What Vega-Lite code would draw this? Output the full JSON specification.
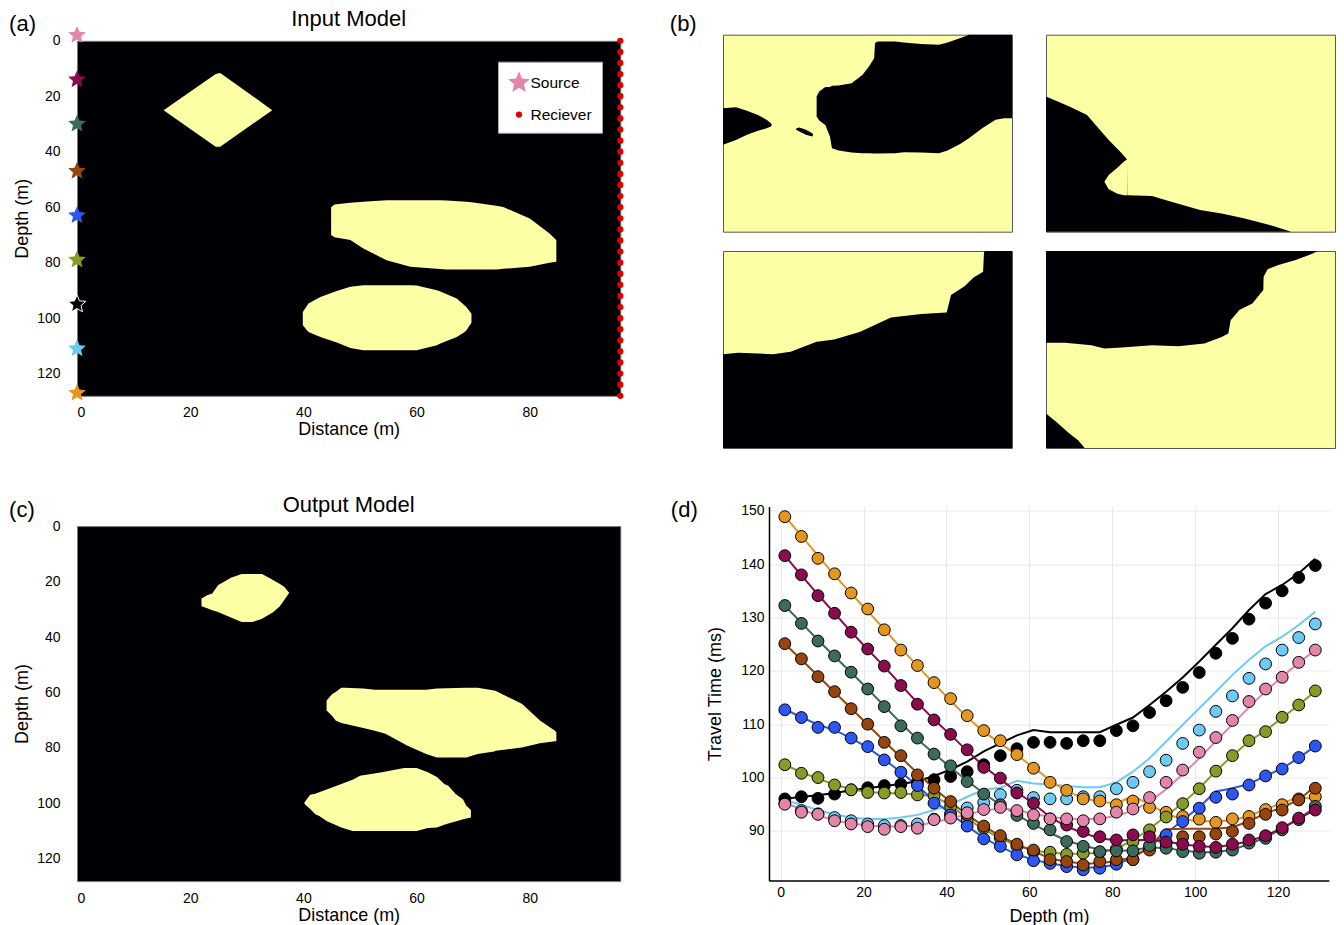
{
"$schema": "https://vega.github.io/schema/vega-lite/v6.json",
"background": "white",
"padding": {"left": 8, "top": 6.7, "right": 0, "bottom": 0},
"config": {
  "font": "Liberation Sans",
  "view": {"stroke": null},
  "axis": {"labelFont": "Liberation Sans", "titleFont": "Liberation Sans", "labelFontSize": 14, "titleFontSize": 18, "titleFontWeight": "normal", "labelColor": "#000", "titleColor": "#000"},
  "title": {"font": "Liberation Sans", "fontSize": 22, "fontWeight": "normal", "color": "#000"},
  "text": {"font": "Liberation Sans"}
},
"resolve": {"scale": {"color": "independent", "fill": "independent", "shape": "independent", "size": "independent"}, "legend": {"color": "independent", "fill": "independent", "shape": "independent", "size": "independent"}},
"spacing": 45,
"hconcat": [
  {
    "vconcat": [
      {"width": 1, "height": 1, "data": {"values": [{}]}, "mark": {"type": "text"}, "encoding": {"text": {"value": ""}}},
      {
        "vconcat": [
          {
            "width": 543.3, "height": 355,
            "title": {"text": "Input Model", "offset": -18},
            "view": {"fill": "#000004", "stroke": "#777"},
            "layer": [
              {
                "data": {"values": [
                  {"g":1,"x":15.3,"top":25,"bot":25},{"g":1,"x":24.5,"top":12,"bot":38.2},{"g":1,"x":25.3,"top":11.6,"bot":38.2},{"g":1,"x":34.5,"top":25,"bot":25},
                  {"g":2,"x":44.9,"top":60,"bot":70},{"g":2,"x":45.5,"top":59,"bot":70.8},{"g":2,"x":48.3,"top":58.4,"bot":71.8},{"g":2,"x":50.6,"top":58.0,"bot":74.9},{"g":2,"x":54.7,"top":57.5,"bot":79.1},{"g":2,"x":58.9,"top":57.5,"bot":81.5},{"g":2,"x":64.1,"top":57.5,"bot":82.3},{"g":2,"x":65.3,"top":57.6,"bot":82.5},{"g":2,"x":69.4,"top":58.1,"bot":82.5},{"g":2,"x":74.1,"top":59.5,"bot":82.5},{"g":2,"x":75.3,"top":59.9,"bot":82.2},{"g":2,"x":80.0,"top":64.1,"bot":81.5},{"g":2,"x":83.5,"top":69.5,"bot":80.0},{"g":2,"x":84.7,"top":71.9,"bot":79.7},
                  {"g":3,"x":39.9,"top":97.8,"bot":102.6},{"g":3,"x":40.9,"top":94.7,"bot":105.0},{"g":3,"x":43.0,"top":92.4,"bot":106.8},{"g":3,"x":45.9,"top":90.2,"bot":108.8},{"g":3,"x":48.3,"top":88.7,"bot":110.8},{"g":3,"x":50.6,"top":88.1,"bot":111.6},{"g":3,"x":58.9,"top":88.1,"bot":111.6},{"g":3,"x":60.0,"top":88.2,"bot":111.6},{"g":3,"x":63.6,"top":89.9,"bot":109.8},{"g":3,"x":64.1,"top":90.3,"bot":109.2},{"g":3,"x":67.1,"top":92.9,"bot":106.8},{"g":3,"x":68.5,"top":95.4,"bot":105.0},{"g":3,"x":68.8,"top":96.0,"bot":104.4},{"g":3,"x":69.7,"top":98.4,"bot":101.7}
                ]},
                "mark": {"type": "area", "color": "#fcffa4", "opacity": 1},
                "encoding": {
                  "x": {"field": "x", "type": "quantitative", "scale": {"domain": [0, 96], "nice": false, "zero": false}, "axis": {"values": [0,20,40,60,80], "title": "Distance (m)", "grid": false, "ticks": false, "domain": false, "labelPadding": 10, "titlePadding": 1}},
                  "y": {"field": "top", "type": "quantitative", "scale": {"domain": [0, 128], "reverse": true, "nice": false, "zero": false}, "axis": {"values": [0,20,40,60,80,100,120], "title": "Depth (m)", "grid": false, "ticks": false, "domain": false, "labelPadding": 17, "titlePadding": 5}},
                  "y2": {"field": "bot"},
                  "detail": {"field": "g"}
                }
              },
              {
                "data": {"values": [
                  {"x":96,"depth":0,"kind":"Reciever"},{"x":96,"depth":4,"kind":"Reciever"},{"x":96,"depth":8,"kind":"Reciever"},{"x":96,"depth":12,"kind":"Reciever"},{"x":96,"depth":16,"kind":"Reciever"},{"x":96,"depth":20,"kind":"Reciever"},{"x":96,"depth":24,"kind":"Reciever"},{"x":96,"depth":28,"kind":"Reciever"},{"x":96,"depth":32,"kind":"Reciever"},{"x":96,"depth":36,"kind":"Reciever"},{"x":96,"depth":40,"kind":"Reciever"},{"x":96,"depth":44,"kind":"Reciever"},{"x":96,"depth":48,"kind":"Reciever"},{"x":96,"depth":52,"kind":"Reciever"},{"x":96,"depth":56,"kind":"Reciever"},{"x":96,"depth":60,"kind":"Reciever"},{"x":96,"depth":64,"kind":"Reciever"},{"x":96,"depth":68,"kind":"Reciever"},{"x":96,"depth":72,"kind":"Reciever"},{"x":96,"depth":76,"kind":"Reciever"},{"x":96,"depth":80,"kind":"Reciever"},{"x":96,"depth":84,"kind":"Reciever"},{"x":96,"depth":88,"kind":"Reciever"},{"x":96,"depth":92,"kind":"Reciever"},{"x":96,"depth":96,"kind":"Reciever"},{"x":96,"depth":100,"kind":"Reciever"},{"x":96,"depth":104,"kind":"Reciever"},{"x":96,"depth":108,"kind":"Reciever"},{"x":96,"depth":112,"kind":"Reciever"},{"x":96,"depth":116,"kind":"Reciever"},{"x":96,"depth":120,"kind":"Reciever"},{"x":96,"depth":124,"kind":"Reciever"},{"x":96,"depth":128,"kind":"Reciever"}
                ]},
                "mark": {"type": "point", "filled": true, "opacity": 1},
                "encoding": {
                  "x": {"field": "x", "type": "quantitative"},
                  "y": {"field": "depth", "type": "quantitative"},
                  "color": {"field": "kind", "type": "nominal", "scale": {"domain": ["Source", "Reciever"], "range": ["#e384ab", "#e00000"]},
                    "legend": {"orient": "none", "legendX": 421, "legendY": 27, "title": null, "fillColor": "#ffffff", "strokeColor": "#aaaaaa", "padding": 9.5, "labelFontSize": 15.5, "labelFont": "Liberation Sans", "labelColor": "#000", "rowPadding": 14.6, "labelOffset": 0, "symbolStrokeWidth": 0}},
                  "shape": {"field": "kind", "type": "nominal", "scale": {"domain": ["Source", "Reciever"], "range": ["M0,-1L0.265,-0.364L0.951,-0.309L0.428,0.139L0.588,0.809L0,0.45L-0.588,0.809L-0.428,0.139L-0.951,-0.309L-0.265,-0.364Z", "circle"]}},
                  "size": {"field": "kind", "type": "nominal", "scale": {"domain": ["Source", "Reciever"], "range": [520, 40]}}
                }
              },
              {
                "data": {"values": [
                  {"x":0,"depth":-2,"kind":"Source","src":"s0"},{"x":0,"depth":14,"kind":"Source","src":"s16"},{"x":0,"depth":30,"kind":"Source","src":"s32"},{"x":0,"depth":47,"kind":"Source","src":"s48"},{"x":0,"depth":63,"kind":"Source","src":"s64"},{"x":0,"depth":79,"kind":"Source","src":"s80"},{"x":0,"depth":95,"kind":"Source","src":"s96"},{"x":0,"depth":111,"kind":"Source","src":"s112"},{"x":0,"depth":127,"kind":"Source","src":"s128"}
                ]},
                "mark": {"type": "point", "filled": true, "size": 350, "opacity": 1, "strokeWidth": 1},
                "encoding": {
                  "x": {"field": "x", "type": "quantitative"},
                  "y": {"field": "depth", "type": "quantitative"},
                  "shape": {"field": "kind", "type": "nominal"},
                  "fill": {"field": "src", "type": "nominal", "scale": {"domain": ["s0","s16","s32","s48","s64","s80","s96","s112","s128"], "range": ["#e384ab","#8b0c4e","#3d6b5b","#96450f","#2d57f0","#8a9a26","#000000","#6ccaf5","#e4961f"]}, "legend": null},
                  "stroke": {"condition": {"test": "datum.src === 's96'", "value": "#ffffff"}, "value": "transparent"}
                }
              },
              {
                "data": {"values": [{"t": "(a)"}]},
                "mark": {"type": "text", "align": "left", "baseline": "alphabetic", "fontSize": 22, "color": "#000"},
                "encoding": {"x": {"datum": -12, "type": "quantitative"}, "y": {"datum": -3.5, "type": "quantitative"}, "text": {"field": "t"}}
              }
            ]
          },
          {
            "width": 543.3, "height": 355,
            "title": {"text": "Output Model", "offset": -18},
            "view": {"fill": "#000004", "stroke": "#777"},
            "layer": [
              {
                "data": {"values": [
                  {"g":1,"x":22.0,"top":26.1,"bot":28.9},{"g":1,"x":23.0,"top":24.9,"bot":29.6},{"g":1,"x":23.9,"top":24.3,"bot":30.3},{"g":1,"x":24.9,"top":21.3,"bot":31.0},{"g":1,"x":27.2,"top":18.6,"bot":33.0},{"g":1,"x":29.1,"top":17.3,"bot":34.6},{"g":1,"x":31.0,"top":17.3,"bot":34.6},{"g":1,"x":32.7,"top":17.3,"bot":33.4},{"g":1,"x":34.7,"top":19.5,"bot":31.0},{"g":1,"x":35.8,"top":20.8,"bot":29.0},{"g":1,"x":36.6,"top":21.9,"bot":26.7},{"g":1,"x":37.5,"top":24.0,"bot":24.0},
                  {"g":2,"x":44.1,"top":62.9,"bot":66.5},{"g":2,"x":45.1,"top":60.5,"bot":68.5},{"g":2,"x":45.7,"top":59.8,"bot":70.1},{"g":2,"x":46.7,"top":58.3,"bot":71.0},{"g":2,"x":47.3,"top":58.3,"bot":71.3},{"g":2,"x":50.6,"top":58.6,"bot":72.8},{"g":2,"x":52.6,"top":59.0,"bot":73.8},{"g":2,"x":54.5,"top":59.0,"bot":74.9},{"g":2,"x":58.4,"top":59.0,"bot":79.2},{"g":2,"x":61.7,"top":59.0,"bot":82.2},{"g":2,"x":63.6,"top":58.6,"bot":83.4},{"g":2,"x":68.8,"top":58.3,"bot":83.4},{"g":2,"x":70.8,"top":58.3,"bot":82.2},{"g":2,"x":73.7,"top":59.3,"bot":81.3},{"g":2,"x":74.0,"top":59.5,"bot":81.0},{"g":2,"x":78.6,"top":64.1,"bot":79.8},{"g":2,"x":79.9,"top":66.5,"bot":79.2},{"g":2,"x":81.8,"top":70.1,"bot":78.3},{"g":2,"x":84.4,"top":73.7,"bot":77.6},{"g":2,"x":84.7,"top":74.3,"bot":77.6},
                  {"g":3,"x":40.2,"top":99.6,"bot":100.2},{"g":3,"x":41.2,"top":96.9,"bot":102.0},{"g":3,"x":42.1,"top":96.5,"bot":103.9},{"g":3,"x":42.8,"top":96.0,"bot":104.5},{"g":3,"x":44.1,"top":95.0,"bot":106.3},{"g":3,"x":46.7,"top":93.0,"bot":108.7},{"g":3,"x":48.7,"top":91.5,"bot":109.9},{"g":3,"x":50.0,"top":90.0,"bot":109.9},{"g":3,"x":53.9,"top":88.8,"bot":109.9},{"g":3,"x":57.8,"top":87.2,"bot":109.9},{"g":3,"x":60.0,"top":87.2,"bot":109.9},{"g":3,"x":62.0,"top":88.8,"bot":108.9},{"g":3,"x":63.6,"top":90.5,"bot":108.7},{"g":3,"x":64.9,"top":93.0,"bot":107.7},{"g":3,"x":65.6,"top":93.6,"bot":107.2},{"g":3,"x":66.9,"top":96.6,"bot":106.5},{"g":3,"x":68.2,"top":98.5,"bot":105.7},{"g":3,"x":68.8,"top":100.8,"bot":105.4},{"g":3,"x":69.6,"top":102.4,"bot":105.1}
                ]},
                "mark": {"type": "area", "color": "#fcffa4", "opacity": 1},
                "encoding": {
                  "x": {"field": "x", "type": "quantitative", "scale": {"domain": [0, 96], "nice": false, "zero": false}, "axis": {"values": [0,20,40,60,80], "title": "Distance (m)", "grid": false, "ticks": false, "domain": false, "labelPadding": 10, "titlePadding": 1}},
                  "y": {"field": "top", "type": "quantitative", "scale": {"domain": [0, 128], "reverse": true, "nice": false, "zero": false}, "axis": {"values": [0,20,40,60,80,100,120], "title": "Depth (m)", "grid": false, "ticks": false, "domain": false, "labelPadding": 17, "titlePadding": 5}},
                  "y2": {"field": "bot"},
                  "detail": {"field": "g"}
                }
              },
              {
                "data": {"values": [{"t": "(c)"}]},
                "mark": {"type": "text", "align": "left", "baseline": "alphabetic", "fontSize": 22, "color": "#000"},
                "encoding": {"x": {"datum": -12, "type": "quantitative"}, "y": {"datum": -3.3, "type": "quantitative"}, "text": {"field": "t"}}
              }
            ]
          }
        ],
        "spacing": 53.3
      }
    ],
    "spacing": -33.9
  },
  {
    "vconcat": [
      {
        "data": {"values": [
          {"r":1,"c":1,"k":"label","lab":"(b)"},
          {"r":1,"c":1,"k":"rock","g":1,"u":32.4,"t":31.4,"b":41.5},{"r":1,"c":1,"k":"rock","g":1,"u":33.3,"t":28.8,"b":43.6},{"r":1,"c":1,"k":"rock","g":1,"u":35.4,"t":26.6,"b":45.8},{"r":1,"c":1,"k":"rock","g":1,"u":37.0,"t":26.6,"b":51.7},{"r":1,"c":1,"k":"rock","g":1,"u":37.7,"t":25.9,"b":57.6},{"r":1,"c":1,"k":"rock","g":1,"u":40.0,"t":25.8,"b":58.8},{"r":1,"c":1,"k":"rock","g":1,"u":44.5,"t":24.6,"b":59.8},{"r":1,"c":1,"k":"rock","g":1,"u":48.3,"t":20.3,"b":60.2},{"r":1,"c":1,"k":"rock","g":1,"u":50.5,"t":16.1,"b":60.2},{"r":1,"c":1,"k":"rock","g":1,"u":52.3,"t":11.9,"b":60.3},{"r":1,"c":1,"k":"rock","g":1,"u":52.6,"t":4.2,"b":60.3},{"r":1,"c":1,"k":"rock","g":1,"u":53.5,"t":3.4,"b":60.3},{"r":1,"c":1,"k":"rock","g":1,"u":59.6,"t":3.4,"b":60.2},{"r":1,"c":1,"k":"rock","g":1,"u":62.6,"t":3.9,"b":59.7},{"r":1,"c":1,"k":"rock","g":1,"u":68.6,"t":4.7,"b":59.8},{"r":1,"c":1,"k":"rock","g":1,"u":74.7,"t":5.1,"b":60.2},{"r":1,"c":1,"k":"rock","g":1,"u":77.7,"t":3.9,"b":58.8},{"r":1,"c":1,"k":"rock","g":1,"u":82.2,"t":1.7,"b":55.4},{"r":1,"c":1,"k":"rock","g":1,"u":85.2,"t":0,"b":52.5},{"r":1,"c":1,"k":"rock","g":1,"u":89.7,"t":0,"b":47.5},{"r":1,"c":1,"k":"rock","g":1,"u":94.3,"t":0,"b":43.2},{"r":1,"c":1,"k":"rock","g":1,"u":97.3,"t":0,"b":42.4},{"r":1,"c":1,"k":"rock","g":1,"u":100,"t":0,"b":42.4},
          {"r":1,"c":1,"k":"rock","g":2,"u":0,"t":37.3,"b":55.9},{"r":1,"c":1,"k":"rock","g":2,"u":4.5,"t":36.8,"b":53.4},{"r":1,"c":1,"k":"rock","g":2,"u":8.3,"t":38.6,"b":50.8},{"r":1,"c":1,"k":"rock","g":2,"u":12.1,"t":40.7,"b":48.8},{"r":1,"c":1,"k":"rock","g":2,"u":15.1,"t":43.2,"b":47.5},{"r":1,"c":1,"k":"rock","g":2,"u":16.6,"t":44.9,"b":46.6},{"r":1,"c":1,"k":"rock","g":2,"u":16.9,"t":45.8,"b":45.8},
          {"r":1,"c":1,"k":"rock","g":3,"u":25.3,"t":47.6,"b":48.3},{"r":1,"c":1,"k":"rock","g":3,"u":26.4,"t":47.1,"b":49.2},{"r":1,"c":1,"k":"rock","g":3,"u":28.7,"t":48.3,"b":50.8},{"r":1,"c":1,"k":"rock","g":3,"u":30.9,"t":50.0,"b":51.7},{"r":1,"c":1,"k":"rock","g":3,"u":31.2,"t":50.8,"b":50.8},
          {"r":1,"c":2,"k":"rock","g":1,"u":0,"t":31.4,"b":100},{"r":1,"c":2,"k":"rock","g":1,"u":8.1,"t":36.4,"b":100},{"r":1,"c":2,"k":"rock","g":1,"u":14.2,"t":40.7,"b":100},{"r":1,"c":2,"k":"rock","g":1,"u":17.2,"t":45.8,"b":100},{"r":1,"c":2,"k":"rock","g":1,"u":21.7,"t":53.4,"b":100},{"r":1,"c":2,"k":"rock","g":1,"u":26.2,"t":60.2,"b":100},{"r":1,"c":2,"k":"rock","g":1,"u":28.0,"t":63.2,"b":100},{"r":1,"c":2,"k":"rock","g":1,"u":28.2,"t":81.5,"b":100},{"r":1,"c":2,"k":"rock","g":1,"u":36.7,"t":81.9,"b":100},{"r":1,"c":2,"k":"rock","g":1,"u":41.3,"t":83.9,"b":100},{"r":1,"c":2,"k":"rock","g":1,"u":53.3,"t":89.0,"b":100},{"r":1,"c":2,"k":"rock","g":1,"u":60.8,"t":90.7,"b":100},{"r":1,"c":2,"k":"rock","g":1,"u":68.4,"t":93.2,"b":100},{"r":1,"c":2,"k":"rock","g":1,"u":77.4,"t":96.6,"b":100},{"r":1,"c":2,"k":"rock","g":1,"u":84.9,"t":100,"b":100},
          {"r":1,"c":2,"k":"gap","g":2,"u":20.2,"t":74.6,"b":74.6},{"r":1,"c":2,"k":"gap","g":2,"u":21.7,"t":71.2,"b":78.5},{"r":1,"c":2,"k":"gap","g":2,"u":24.7,"t":67.5,"b":80.8},{"r":1,"c":2,"k":"gap","g":2,"u":27.0,"t":64.4,"b":81.5},{"r":1,"c":2,"k":"gap","g":2,"u":28.2,"t":63.2,"b":81.5},
          {"r":2,"c":1,"k":"rock","g":1,"u":0,"t":52.4,"b":100},{"r":2,"c":1,"k":"rock","g":1,"u":5.3,"t":51.7,"b":100},{"r":2,"c":1,"k":"rock","g":1,"u":17.3,"t":52.4,"b":100},{"r":2,"c":1,"k":"rock","g":1,"u":23.4,"t":51.2,"b":100},{"r":2,"c":1,"k":"rock","g":1,"u":32.4,"t":46.1,"b":100},{"r":2,"c":1,"k":"rock","g":1,"u":38.5,"t":44.9,"b":100},{"r":2,"c":1,"k":"rock","g":1,"u":47.5,"t":41.0,"b":100},{"r":2,"c":1,"k":"rock","g":1,"u":58.1,"t":33.7,"b":100},{"r":2,"c":1,"k":"rock","g":1,"u":68.6,"t":32.0,"b":100},{"r":2,"c":1,"k":"rock","g":1,"u":77.4,"t":31.2,"b":100},{"r":2,"c":1,"k":"rock","g":1,"u":78.9,"t":22.4,"b":100},{"r":2,"c":1,"k":"rock","g":1,"u":83.7,"t":17.8,"b":100},{"r":2,"c":1,"k":"rock","g":1,"u":86.7,"t":13.4,"b":100},{"r":2,"c":1,"k":"rock","g":1,"u":90.0,"t":10.5,"b":100},{"r":2,"c":1,"k":"rock","g":1,"u":90.3,"t":1.2,"b":100},{"r":2,"c":1,"k":"rock","g":1,"u":90.5,"t":0,"b":100},{"r":2,"c":1,"k":"rock","g":1,"u":100,"t":0,"b":100},
          {"r":2,"c":2,"k":"rock","g":1,"u":0,"t":0,"b":46.6},{"r":2,"c":2,"k":"rock","g":1,"u":6.6,"t":0,"b":46.6},{"r":2,"c":2,"k":"rock","g":1,"u":15.7,"t":0,"b":47.8},{"r":2,"c":2,"k":"rock","g":1,"u":20.2,"t":0,"b":49.5},{"r":2,"c":2,"k":"rock","g":1,"u":26.2,"t":0,"b":49.0},{"r":2,"c":2,"k":"rock","g":1,"u":36.7,"t":0,"b":47.8},{"r":2,"c":2,"k":"rock","g":1,"u":45.8,"t":0,"b":48.3},{"r":2,"c":2,"k":"rock","g":1,"u":54.8,"t":0,"b":46.9},{"r":2,"c":2,"k":"rock","g":1,"u":60.8,"t":0,"b":43.6},{"r":2,"c":2,"k":"rock","g":1,"u":63.1,"t":0,"b":41.9},{"r":2,"c":2,"k":"rock","g":1,"u":63.9,"t":0,"b":35.1},{"r":2,"c":2,"k":"rock","g":1,"u":66.9,"t":0,"b":30.0},{"r":2,"c":2,"k":"rock","g":1,"u":71.4,"t":0,"b":26.6},{"r":2,"c":2,"k":"rock","g":1,"u":75.2,"t":0,"b":19.8},{"r":2,"c":2,"k":"rock","g":1,"u":75.3,"t":0,"b":13.1},{"r":2,"c":2,"k":"rock","g":1,"u":76.7,"t":0,"b":9.3},{"r":2,"c":2,"k":"rock","g":1,"u":80.4,"t":0,"b":7.1},{"r":2,"c":2,"k":"rock","g":1,"u":86.4,"t":0,"b":4.6},{"r":2,"c":2,"k":"rock","g":1,"u":92.5,"t":0,"b":1.2},{"r":2,"c":2,"k":"rock","g":1,"u":94.0,"t":0,"b":0},
          {"r":2,"c":2,"k":"rock","g":2,"u":0,"t":82.5,"b":100},{"r":2,"c":2,"k":"rock","g":2,"u":3.6,"t":86.8,"b":100},{"r":2,"c":2,"k":"rock","g":2,"u":8.1,"t":92.7,"b":100},{"r":2,"c":2,"k":"rock","g":2,"u":11.1,"t":96.1,"b":100},{"r":2,"c":2,"k":"rock","g":2,"u":13.4,"t":100,"b":100}
        ]},
        "facet": {
          "row": {"field": "r", "type": "ordinal", "title": null, "header": {"labels": false, "title": null}},
          "column": {"field": "c", "type": "ordinal", "title": null, "header": {"labels": false, "title": null}}
        },
        "spacing": {"row": 19.3, "column": 34},
        "bounds": "flush",
        "spec": {
          "width": 289, "height": 197,
          "view": {"fill": "#fcffa4", "stroke": "#555"},
          "layer": [
            {
              "transform": [{"filter": "datum.k === 'rock'"}],
              "mark": {"type": "area", "color": "#000004", "opacity": 1},
              "encoding": {
                "x": {"field": "u", "type": "quantitative", "scale": {"domain": [0, 100], "nice": false, "zero": false}, "axis": null},
                "y": {"field": "t", "type": "quantitative", "scale": {"domain": [0, 100], "reverse": true, "nice": false, "zero": false}, "axis": null},
                "y2": {"field": "b"},
                "detail": {"field": "g"}
              }
            },
            {
              "transform": [{"filter": "datum.k === 'gap'"}],
              "mark": {"type": "area", "color": "#fcffa4", "opacity": 1},
              "encoding": {
                "x": {"field": "u", "type": "quantitative"},
                "y": {"field": "t", "type": "quantitative"},
                "y2": {"field": "b"},
                "detail": {"field": "g"}
              }
            },
            {
              "transform": [{"filter": "datum.k === 'label'"}],
              "mark": {"type": "text", "align": "left", "baseline": "alphabetic", "fontSize": 22, "color": "#000"},
              "encoding": {"x": {"datum": -18.4, "type": "quantitative"}, "y": {"datum": -2, "type": "quantitative"}, "text": {"field": "lab"}}
            }
          ]
        }
      },
      {
        "hconcat": [
          {"width": 1, "height": 1, "data": {"values": [{}]}, "mark": {"type": "text"}, "encoding": {"text": {"value": ""}}},
          {
            "width": 560, "height": 374,
            "data": {"values": [
{"s":"s112","d":1,"o":95.2,"p":95.8},{"s":"s112","d":5,"o":93.8,"p":94.9},{"s":"s112","d":9,"o":93.2,"p":93.9},{"s":"s112","d":13,"o":92.5,"p":93.1},{"s":"s112","d":17,"o":91.9,"p":92.5},{"s":"s112","d":21,"o":91.3,"p":92.25},{"s":"s112","d":25,"o":91.0,"p":92.25},{"s":"s112","d":29,"o":91.0,"p":92.5},{"s":"s112","d":33,"o":91.3,"p":93.0},{"s":"s112","d":37,"o":92.2,"p":93.9},{"s":"s112","d":41,"o":93.2,"p":94.9},{"s":"s112","d":45,"o":94.3,"p":96.4},{"s":"s112","d":49,"o":95.3,"p":97.7},{"s":"s112","d":53,"o":96.8,"p":98.1},{"s":"s112","d":57,"o":97.6,"p":99.4},{"s":"s112","d":61,"o":96.25,"p":98.9},{"s":"s112","d":65,"o":96.0,"p":98.7},{"s":"s112","d":69,"o":96.0,"p":98.4},{"s":"s112","d":73,"o":96.4,"p":98.2},{"s":"s112","d":77,"o":96.4,"p":98.2},{"s":"s112","d":81,"o":97.9,"p":99.1},{"s":"s112","d":85,"o":99.1,"p":101.1},{"s":"s112","d":89,"o":101.1,"p":103.6},{"s":"s112","d":93,"o":103.25,"p":106.75},{"s":"s112","d":97,"o":106.4,"p":109.9},{"s":"s112","d":101,"o":108.9,"p":113.0},{"s":"s112","d":105,"o":112.4,"p":116.1},{"s":"s112","d":109,"o":115.3,"p":119.25},{"s":"s112","d":113,"o":118.6,"p":122.1},{"s":"s112","d":117,"o":121.3,"p":124.6},{"s":"s112","d":121,"o":123.9,"p":126.4},{"s":"s112","d":125,"o":126.25,"p":128.6},{"s":"s112","d":129,"o":128.8,"p":131.1},
{"s":"s96","d":1,"o":96.0,"p":96.0},{"s":"s96","d":5,"o":96.4,"p":96.4},{"s":"s96","d":9,"o":96.1,"p":96.7},{"s":"s96","d":13,"o":96.9,"p":97.1},{"s":"s96","d":17,"o":97.7,"p":97.6},{"s":"s96","d":21,"o":98.1,"p":98.0},{"s":"s96","d":25,"o":98.5,"p":98.4},{"s":"s96","d":29,"o":98.75,"p":98.8},{"s":"s96","d":33,"o":99.1,"p":99.3},{"s":"s96","d":37,"o":99.6,"p":100.3},{"s":"s96","d":41,"o":100.2,"p":101.5},{"s":"s96","d":45,"o":101.1,"p":103.0},{"s":"s96","d":49,"o":102.4,"p":104.9},{"s":"s96","d":53,"o":104.1,"p":106.4},{"s":"s96","d":57,"o":105.4,"p":107.9},{"s":"s96","d":61,"o":106.6,"p":108.9},{"s":"s96","d":65,"o":106.6,"p":108.5},{"s":"s96","d":69,"o":106.4,"p":108.5},{"s":"s96","d":73,"o":106.9,"p":108.5},{"s":"s96","d":77,"o":106.9,"p":108.5},{"s":"s96","d":81,"o":108.8,"p":109.9},{"s":"s96","d":85,"o":109.7,"p":111.25},{"s":"s96","d":89,"o":112.2,"p":113.6},{"s":"s96","d":93,"o":114.4,"p":116.1},{"s":"s96","d":97,"o":116.9,"p":118.75},{"s":"s96","d":101,"o":119.7,"p":121.75},{"s":"s96","d":105,"o":123.3,"p":124.9},{"s":"s96","d":109,"o":126.1,"p":128.0},{"s":"s96","d":113,"o":129.7,"p":131.4},{"s":"s96","d":117,"o":132.7,"p":134.4},{"s":"s96","d":121,"o":135.0,"p":136.1},{"s":"s96","d":125,"o":137.5,"p":138.3},{"s":"s96","d":129,"o":139.75,"p":141.0},
{"s":"s128","d":1,"o":148.9,"p":149.0},{"s":"s128","d":5,"o":145.2,"p":145.3},{"s":"s128","d":9,"o":141.1,"p":141.6},{"s":"s128","d":13,"o":138.2,"p":137.9},{"s":"s128","d":17,"o":134.6,"p":134.5},{"s":"s128","d":21,"o":131.6,"p":131.2},{"s":"s128","d":25,"o":127.7,"p":127.8},{"s":"s128","d":29,"o":123.9,"p":124.3},{"s":"s128","d":33,"o":121.0,"p":120.9},{"s":"s128","d":37,"o":117.8,"p":117.6},{"s":"s128","d":41,"o":114.8,"p":114.4},{"s":"s128","d":45,"o":111.6,"p":111.3},{"s":"s128","d":49,"o":108.8,"p":108.6},{"s":"s128","d":53,"o":106.9,"p":106.4},{"s":"s128","d":57,"o":104.3,"p":104.2},{"s":"s128","d":61,"o":101.75,"p":101.9},{"s":"s128","d":65,"o":99.1,"p":99.5},{"s":"s128","d":69,"o":97.6,"p":97.4},{"s":"s128","d":73,"o":96.0,"p":96.2},{"s":"s128","d":77,"o":95.6,"p":95.4},{"s":"s128","d":81,"o":94.9,"p":95.2},{"s":"s128","d":85,"o":95.6,"p":96.5},{"s":"s128","d":89,"o":94.4,"p":95.0},{"s":"s128","d":93,"o":93.5,"p":93.2},{"s":"s128","d":97,"o":92.7,"p":92.2},{"s":"s128","d":101,"o":92.2,"p":91.8},{"s":"s128","d":105,"o":91.6,"p":91.8},{"s":"s128","d":109,"o":92.25,"p":92.0},{"s":"s128","d":113,"o":92.7,"p":92.8},{"s":"s128","d":117,"o":94.0,"p":94.1},{"s":"s128","d":121,"o":94.9,"p":95.2},{"s":"s128","d":125,"o":96.0,"p":96.3},{"s":"s128","d":129,"o":96.4,"p":96.0},
{"s":"s80","d":1,"o":102.4,"p":102.4},{"s":"s80","d":5,"o":100.8,"p":101.0},{"s":"s80","d":9,"o":100.0,"p":99.8},{"s":"s80","d":13,"o":98.6,"p":98.7},{"s":"s80","d":17,"o":97.7,"p":97.8},{"s":"s80","d":21,"o":97.2,"p":97.3},{"s":"s80","d":25,"o":97.1,"p":97.1},{"s":"s80","d":29,"o":97.2,"p":97.0},{"s":"s80","d":33,"o":96.75,"p":96.8},{"s":"s80","d":37,"o":96.6,"p":96.5},{"s":"s80","d":41,"o":94.6,"p":94.8},{"s":"s80","d":45,"o":92.1,"p":92.3},{"s":"s80","d":49,"o":90.5,"p":90.3},{"s":"s80","d":53,"o":88.6,"p":88.6},{"s":"s80","d":57,"o":87.1,"p":87.2},{"s":"s80","d":61,"o":86.1,"p":86.3},{"s":"s80","d":65,"o":86.0,"p":85.9},{"s":"s80","d":69,"o":85.6,"p":85.7},{"s":"s80","d":73,"o":85.8,"p":85.7},{"s":"s80","d":77,"o":86.0,"p":85.9},{"s":"s80","d":81,"o":86.6,"p":86.7},{"s":"s80","d":85,"o":88.0,"p":88.2},{"s":"s80","d":89,"o":90.2,"p":90.4},{"s":"s80","d":93,"o":92.6,"p":92.8},{"s":"s80","d":97,"o":95.1,"p":95.2},{"s":"s80","d":101,"o":97.9,"p":98.0},{"s":"s80","d":105,"o":101.2,"p":101.2},{"s":"s80","d":109,"o":104.1,"p":104.1},{"s":"s80","d":113,"o":106.9,"p":106.8},{"s":"s80","d":117,"o":108.6,"p":108.8},{"s":"s80","d":121,"o":111.3,"p":111.2},{"s":"s80","d":125,"o":113.6,"p":113.6},{"s":"s80","d":129,"o":116.25,"p":116.2},
{"s":"s64","d":1,"o":112.7,"p":112.8},{"s":"s64","d":5,"o":111.25,"p":111.3},{"s":"s64","d":9,"o":109.4,"p":109.9},{"s":"s64","d":13,"o":109.4,"p":108.9},{"s":"s64","d":17,"o":107.4,"p":107.4},{"s":"s64","d":21,"o":105.8,"p":105.6},{"s":"s64","d":25,"o":103.3,"p":103.4},{"s":"s64","d":29,"o":101.0,"p":101.0},{"s":"s64","d":33,"o":98.5,"p":98.5},{"s":"s64","d":37,"o":95.2,"p":95.6},{"s":"s64","d":41,"o":93.0,"p":93.2},{"s":"s64","d":45,"o":90.9,"p":90.9},{"s":"s64","d":49,"o":88.5,"p":88.7},{"s":"s64","d":53,"o":87.1,"p":87.0},{"s":"s64","d":57,"o":85.5,"p":85.6},{"s":"s64","d":61,"o":84.4,"p":84.6},{"s":"s64","d":65,"o":83.9,"p":83.9},{"s":"s64","d":69,"o":83.3,"p":83.4},{"s":"s64","d":73,"o":82.7,"p":83.1},{"s":"s64","d":77,"o":83.0,"p":83.2},{"s":"s64","d":81,"o":83.75,"p":83.7},{"s":"s64","d":85,"o":84.6,"p":85.0},{"s":"s64","d":89,"o":86.75,"p":87.0},{"s":"s64","d":93,"o":89.25,"p":89.5},{"s":"s64","d":97,"o":91.75,"p":92.0},{"s":"s64","d":101,"o":94.25,"p":94.5},{"s":"s64","d":105,"o":96.3,"p":97.4},{"s":"s64","d":109,"o":96.9,"p":98.0},{"s":"s64","d":113,"o":98.6,"p":98.8},{"s":"s64","d":117,"o":100.3,"p":100.3},{"s":"s64","d":121,"o":101.6,"p":101.7},{"s":"s64","d":125,"o":103.75,"p":103.7},{"s":"s64","d":129,"o":105.9,"p":105.9},
{"s":"s48","d":1,"o":125.1,"p":125.1},{"s":"s48","d":5,"o":122.25,"p":122.1},{"s":"s48","d":9,"o":118.9,"p":119.1},{"s":"s48","d":13,"o":116.1,"p":116.0},{"s":"s48","d":17,"o":112.9,"p":113.0},{"s":"s48","d":21,"o":110.0,"p":109.9},{"s":"s48","d":25,"o":106.6,"p":106.8},{"s":"s48","d":29,"o":104.1,"p":103.8},{"s":"s48","d":33,"o":100.5,"p":100.8},{"s":"s48","d":37,"o":98.0,"p":98.0},{"s":"s48","d":41,"o":95.5,"p":95.4},{"s":"s48","d":45,"o":93.0,"p":93.0},{"s":"s48","d":49,"o":90.9,"p":90.9},{"s":"s48","d":53,"o":89.1,"p":89.0},{"s":"s48","d":57,"o":87.5,"p":87.5},{"s":"s48","d":61,"o":86.4,"p":86.2},{"s":"s48","d":65,"o":84.6,"p":84.8},{"s":"s48","d":69,"o":84.25,"p":84.2},{"s":"s48","d":73,"o":83.6,"p":83.9},{"s":"s48","d":77,"o":84.25,"p":83.9},{"s":"s48","d":81,"o":84.6,"p":84.4},{"s":"s48","d":85,"o":84.6,"p":85.0},{"s":"s48","d":89,"o":86.4,"p":87.0},{"s":"s48","d":93,"o":87.7,"p":90.3},{"s":"s48","d":97,"o":88.9,"p":90.4},{"s":"s48","d":101,"o":88.9,"p":90.4},{"s":"s48","d":105,"o":89.4,"p":90.4},{"s":"s48","d":109,"o":89.9,"p":90.7},{"s":"s48","d":113,"o":91.4,"p":91.8},{"s":"s48","d":117,"o":93.1,"p":93.3},{"s":"s48","d":121,"o":93.9,"p":94.4},{"s":"s48","d":125,"o":95.8,"p":95.8},{"s":"s48","d":129,"o":98.0,"p":98.4},
{"s":"s32","d":1,"o":132.25,"p":132.2},{"s":"s32","d":5,"o":128.9,"p":129.0},{"s":"s32","d":9,"o":125.6,"p":125.8},{"s":"s32","d":13,"o":122.8,"p":122.7},{"s":"s32","d":17,"o":119.75,"p":119.7},{"s":"s32","d":21,"o":116.6,"p":116.6},{"s":"s32","d":25,"o":113.3,"p":113.4},{"s":"s32","d":29,"o":109.7,"p":110.2},{"s":"s32","d":33,"o":107.4,"p":107.2},{"s":"s32","d":37,"o":104.4,"p":104.5},{"s":"s32","d":41,"o":102.2,"p":101.9},{"s":"s32","d":45,"o":99.25,"p":99.4},{"s":"s32","d":49,"o":96.9,"p":97.0},{"s":"s32","d":53,"o":94.9,"p":94.9},{"s":"s32","d":57,"o":92.9,"p":93.0},{"s":"s32","d":61,"o":91.4,"p":91.2},{"s":"s32","d":65,"o":90.2,"p":89.6},{"s":"s32","d":69,"o":88.0,"p":88.2},{"s":"s32","d":73,"o":87.1,"p":87.2},{"s":"s32","d":77,"o":86.1,"p":86.5},{"s":"s32","d":81,"o":86.25,"p":86.2},{"s":"s32","d":85,"o":86.25,"p":86.4},{"s":"s32","d":89,"o":87.25,"p":86.9},{"s":"s32","d":93,"o":86.75,"p":86.8},{"s":"s32","d":97,"o":86.1,"p":86.3},{"s":"s32","d":101,"o":85.8,"p":86.0},{"s":"s32","d":105,"o":86.0,"p":86.0},{"s":"s32","d":109,"o":86.4,"p":86.5},{"s":"s32","d":113,"o":87.7,"p":87.5},{"s":"s32","d":117,"o":88.6,"p":88.8},{"s":"s32","d":121,"o":90.2,"p":90.4},{"s":"s32","d":125,"o":92.1,"p":92.3},{"s":"s32","d":129,"o":94.6,"p":94.4},
{"s":"s16","d":1,"o":141.6,"p":141.6},{"s":"s16","d":5,"o":138.0,"p":137.9},{"s":"s16","d":9,"o":134.1,"p":134.3},{"s":"s16","d":13,"o":130.8,"p":130.8},{"s":"s16","d":17,"o":127.25,"p":127.3},{"s":"s16","d":21,"o":124.1,"p":124.0},{"s":"s16","d":25,"o":120.9,"p":120.8},{"s":"s16","d":29,"o":117.25,"p":117.4},{"s":"s16","d":33,"o":113.75,"p":114.0},{"s":"s16","d":37,"o":110.8,"p":110.9},{"s":"s16","d":41,"o":108.1,"p":108.0},{"s":"s16","d":45,"o":105.2,"p":105.0},{"s":"s16","d":49,"o":101.9,"p":102.1},{"s":"s16","d":53,"o":99.9,"p":99.7},{"s":"s16","d":57,"o":97.1,"p":97.3},{"s":"s16","d":61,"o":95.2,"p":95.1},{"s":"s16","d":65,"o":92.25,"p":92.6},{"s":"s16","d":69,"o":91.1,"p":90.8},{"s":"s16","d":73,"o":89.9,"p":89.6},{"s":"s16","d":77,"o":88.9,"p":88.6},{"s":"s16","d":81,"o":88.3,"p":88.2},{"s":"s16","d":85,"o":89.25,"p":88.3},{"s":"s16","d":89,"o":88.9,"p":88.3},{"s":"s16","d":93,"o":87.9,"p":88.0},{"s":"s16","d":97,"o":87.5,"p":87.5},{"s":"s16","d":101,"o":87.1,"p":87.1},{"s":"s16","d":105,"o":86.9,"p":87.0},{"s":"s16","d":109,"o":87.5,"p":87.4},{"s":"s16","d":113,"o":88.3,"p":88.1},{"s":"s16","d":117,"o":89.1,"p":89.1},{"s":"s16","d":121,"o":90.6,"p":90.5},{"s":"s16","d":125,"o":92.4,"p":92.3},{"s":"s16","d":129,"o":93.9,"p":94.0},
{"s":"s0","d":1,"o":95.0,"p":95.3},{"s":"s0","d":5,"o":93.5,"p":94.0},{"s":"s0","d":9,"o":93.1,"p":92.9},{"s":"s0","d":13,"o":91.9,"p":92.0},{"s":"s0","d":17,"o":91.3,"p":91.4},{"s":"s0","d":21,"o":90.8,"p":91.0},{"s":"s0","d":25,"o":90.3,"p":90.8},{"s":"s0","d":29,"o":90.8,"p":90.8},{"s":"s0","d":33,"o":90.5,"p":91.0},{"s":"s0","d":37,"o":92.1,"p":91.6},{"s":"s0","d":41,"o":92.4,"p":92.3},{"s":"s0","d":45,"o":93.4,"p":93.1},{"s":"s0","d":49,"o":94.0,"p":93.8},{"s":"s0","d":53,"o":94.4,"p":94.2},{"s":"s0","d":57,"o":93.8,"p":93.9},{"s":"s0","d":61,"o":93.0,"p":93.2},{"s":"s0","d":65,"o":92.25,"p":92.6},{"s":"s0","d":69,"o":92.25,"p":92.3},{"s":"s0","d":73,"o":91.9,"p":92.2},{"s":"s0","d":77,"o":92.25,"p":92.3},{"s":"s0","d":81,"o":93.5,"p":92.8},{"s":"s0","d":85,"o":94.1,"p":93.8},{"s":"s0","d":89,"o":96.25,"p":95.5},{"s":"s0","d":93,"o":99.1,"p":97.8},{"s":"s0","d":97,"o":101.4,"p":100.6},{"s":"s0","d":101,"o":104.75,"p":103.6},{"s":"s0","d":105,"o":107.5,"p":106.8},{"s":"s0","d":109,"o":110.7,"p":110.0},{"s":"s0","d":113,"o":114.25,"p":113.2},{"s":"s0","d":117,"o":116.6,"p":116.2},{"s":"s0","d":121,"o":118.8,"p":118.9},{"s":"s0","d":125,"o":121.6,"p":121.5},{"s":"s0","d":129,"o":123.9,"p":123.9}
            ]},
            "layer": [
              {
                "mark": {"type": "line", "strokeWidth": 2},
                "encoding": {
                  "x": {"field": "d", "type": "quantitative", "scale": {"domain": [-2.82, 132.3], "nice": false, "zero": false}, "axis": {"values": [0,20,40,60,80,100,120], "title": "Depth (m)", "grid": true, "gridColor": "#e8e8e8", "ticks": false, "domainColor": "#000", "domainWidth": 1.5, "labelPadding": 5, "titlePadding": 8}},
                  "y": {"field": "p", "type": "quantitative", "scale": {"domain": [80.68, 150.8], "nice": false, "zero": false}, "axis": {"values": [90,100,110,120,130,140,150], "title": "Travel Time (ms)", "grid": true, "gridColor": "#e8e8e8", "ticks": false, "domainColor": "#000", "domainWidth": 1.5, "labelPadding": 5, "titlePadding": 16}},
                  "color": {"field": "s", "type": "nominal", "scale": {"domain": ["s0","s16","s32","s48","s64","s80","s96","s112","s128"], "range": ["#e384ab","#8b0c4e","#3d6b5b","#96450f","#2d57f0","#8a9a26","#000000","#6ccaf5","#e4961f"]}, "legend": null}
                }
              },
              {
                "mark": {"type": "point", "filled": true, "size": 140, "stroke": "#000", "strokeWidth": 1, "opacity": 1},
                "encoding": {
                  "x": {"field": "d", "type": "quantitative"},
                  "y": {"field": "o", "type": "quantitative"},
                  "color": {"field": "s", "type": "nominal", "legend": null}
                }
              },
              {
                "data": {"values": [{"lab": "(d)"}]},
                "mark": {"type": "text", "align": "left", "baseline": "alphabetic", "fontSize": 22, "color": "#000"},
                "encoding": {"x": {"datum": -26.5, "type": "quantitative"}, "y": {"datum": 148.9, "type": "quantitative"}, "text": {"field": "lab"}}
              }
            ]
          }
        ],
        "spacing": -54
      }
    ],
    "spacing": 49.9
  }
]
}
